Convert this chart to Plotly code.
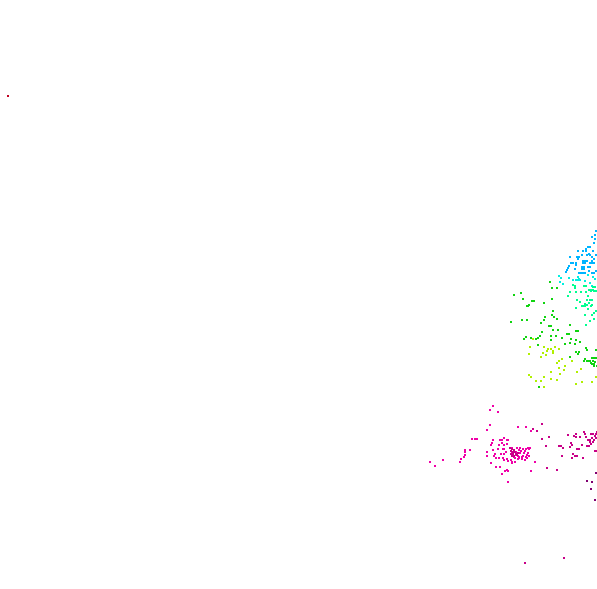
#!/usr/bin/env python3
"""Scatter of coloured point clusters, axes hidden, read off the picture."""

import plotly.graph_objects as go

blue_x = [596, 595, 592, 595, 594, 586, 588, 590, 586, 593, 583, 578, 589, 587, 590, 596, 582, 577, 579, 570, 592,
          578, 594, 592, 583, 585, 587, 571, 573, 576, 583, 585, 590, 592, 594, 576, 569, 582, 584, 588, 590, 568,
          582, 584, 575, 567, 589, 596, 566, 579, 581, 583, 585, 592, 594]
blue_y = [231, 235, 237, 239, 243, 249, 247, 247, 251, 251, 251, 251, 254, 255, 255, 255, 255, 257, 257, 257, 257,
          259, 259, 261, 261, 261, 261, 263, 263, 263, 263, 263, 263, 263, 263, 265, 266, 267, 267, 267, 267, 268,
          269, 269, 269, 270, 271, 271, 272, 273, 273, 273, 273, 273, 273]

cyan_x = [559, 561, 578, 579, 593, 569, 576, 578, 580, 573, 585, 560, 563, 590, 595, 588, 592]
cyan_y = [276, 278, 277, 279, 277, 278, 280, 280, 280, 280, 281, 282, 284, 283, 279, 275, 286]

mint_x = [573, 575, 575, 584, 586, 593, 595, 589, 591, 593, 594, 570, 576, 581, 586, 591, 596, 568, 588, 577,
          587, 590, 589, 592, 580, 585, 592, 583, 585, 587, 576, 588, 591, 582, 585, 592, 594, 596, 590, 594, 586]
mint_y = [285, 286, 288, 286, 286, 287, 287, 290, 290, 290, 291, 292, 292, 292, 292, 291, 291, 296, 296, 300,
          300, 300, 303, 300, 302, 304, 305, 306, 306, 305, 308, 309, 306, 306, 315, 315, 313, 311, 321, 319, 325]

green_x = [550, 552, 557, 514, 521, 523, 532, 534, 544, 552, 529, 527, 528, 553, 552, 545, 554, 557, 522, 544, 527,
           511, 541, 549, 551, 553, 558, 542, 570, 576, 578, 551, 556, 562, 567, 569, 540, 538, 536, 526, 531, 524,
           551, 571, 576, 580, 565, 570, 575, 538, 576, 579, 578, 586, 587, 596, 570, 592, 594, 596, 585, 584, 587,
           590, 592, 594, 594, 597, 539, 589, 591, 593, 595]
green_y = [282, 288, 288, 295, 293, 299, 301, 301, 303, 299, 305, 306, 306, 311, 315, 317, 317, 319, 320, 320, 320,
           322, 323, 326, 326, 330, 330, 332, 325, 331, 331, 336, 336, 338, 334, 334, 336, 338, 339, 337, 338, 339,
           340, 339, 340, 342, 344, 343, 344, 345, 352, 352, 354, 348, 350, 350, 357, 358, 358, 358, 359, 361, 361,
           361, 364, 364, 366, 366, 387, 361, 363, 361, 362]

lime_x = [533, 530, 544, 548, 551, 555, 559, 547, 553, 553, 543, 529, 546, 541, 562, 559, 557, 572, 565, 559, 551,
          560, 564, 577, 581, 529, 531, 544, 536, 541, 551, 557, 544, 576, 582, 592, 596]
lime_y = [339, 347, 347, 349, 349, 347, 349, 351, 351, 353, 353, 354, 355, 357, 359, 361, 363, 361, 366, 368, 372,
          374, 370, 372, 369, 375, 377, 377, 381, 381, 379, 380, 387, 384, 382, 382, 377]

magenta_x = [493, 490, 498, 490, 487, 472, 475, 477, 465, 465, 470, 465, 464, 461, 460, 443, 430, 435, 493, 504,
             500, 502, 508, 492, 491, 502, 499, 504, 507, 498, 503, 504, 487, 493, 495, 494, 487, 501, 504, 506,
             499, 503, 507, 504, 496, 508, 512, 491, 496, 500, 505, 508, 502, 508, 518, 526, 531, 507, 512, 519,
             512, 516, 521, 525, 529, 514, 518, 523, 527, 511, 515, 518, 522, 527, 515, 519, 525, 512, 507, 535,
             531, 508, 517, 520, 523, 526, 528, 530, 516, 520, 524, 528, 519, 522, 526, 529]
magenta_y = [406, 410, 412, 425, 430, 439, 439, 439, 450, 452, 450, 455, 457, 459, 462, 460, 462, 466, 440, 438,
             440, 440, 440, 443, 445, 443, 445, 445, 444, 449, 449, 449, 452, 450, 454, 456, 456, 454, 454, 452,
             458, 458, 459, 460, 458, 461, 462, 463, 467, 467, 471, 471, 474, 471, 427, 427, 431, 440, 448, 450,
             453, 455, 451, 451, 449, 457, 456, 456, 455, 460, 458, 459, 459, 458, 462, 458, 460, 463, 470, 462,
             471, 482, 448, 448, 449, 449, 448, 448, 452, 453, 453, 453, 457, 457, 457, 456]

deep_x = [510, 512, 514, 511, 513, 515, 511, 513, 516, 518, 512, 514, 517, 533, 537, 542, 542, 549, 546, 547, 557,
          559, 561, 563, 562, 568, 574, 576, 576, 580, 584, 585, 586, 591, 596, 588, 590, 596, 593, 595, 597, 571,
          570, 572, 577, 579, 582, 587, 589, 595, 597, 573, 575, 577, 572, 583, 525, 564, 592, 594, 590, 591, 593]
deep_y = [448, 449, 450, 451, 452, 452, 454, 454, 454, 453, 456, 456, 455, 429, 431, 424, 439, 437, 446, 468, 470,
          446, 446, 448, 456, 435, 436, 434, 437, 437, 432, 434, 437, 434, 434, 440, 440, 438, 434, 436, 432, 443,
          447, 445, 449, 449, 445, 446, 446, 451, 451, 454, 456, 456, 458, 458, 563, 558, 438, 440, 442, 444, 442]

purple_x = [596, 587, 592, 591, 595]
purple_y = [473, 481, 482, 489, 500]

red_x = [8]
red_y = [96]

SERIES = [
    (blue_x, blue_y, "#00b4ff", 2.4),
    (cyan_x, cyan_y, "#00f0e0", 2.4),
    (mint_x, mint_y, "#00ff90", 2.4),
    (green_x, green_y, "#10d410", 2.4),
    (lime_x, lime_y, "#b0f000", 2.4),
    (magenta_x, magenta_y, "#f000a8", 2.4),
    (deep_x, deep_y, "#c80088", 2.4),
    (purple_x, purple_y, "#800070", 1.4),
    (red_x, red_y, "#c00020", 2.4),
]

fig = go.Figure()
for xs, ys, colour, size in SERIES:
    fig.add_trace(go.Scatter(
        x=xs,
        y=ys,
        mode="markers",
        marker=dict(symbol="square", size=size, color=colour, line=dict(width=0)),
        showlegend=False,
    ))

fig.update_layout(
    width=597,
    height=589,
    margin=dict(l=0, r=0, t=0, b=0),
    paper_bgcolor="white",
    plot_bgcolor="white",
    xaxis=dict(range=[0, 597], visible=False),
    yaxis=dict(range=[589, 0], visible=False),
)

# the page's default body margin would push the whole plot 8px in;
# crispEdges keeps the tiny squares as hard pixels like the reference
fig.write_html(
    "out.html",
    config=dict(displayModeBar=False),
    post_script=(
        "document.body.style.margin = '0';"
        "document.querySelectorAll('.point').forEach(p => p.style.shapeRendering = 'crispEdges');"
    ),
)
